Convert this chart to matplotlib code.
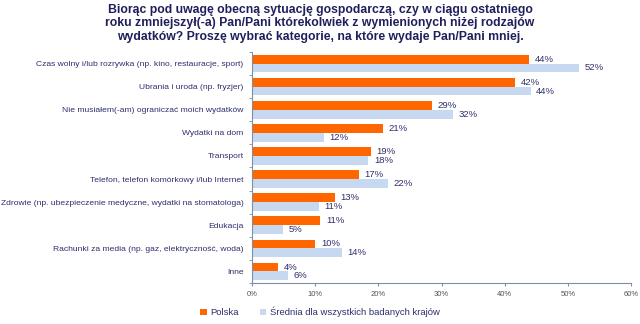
import matplotlib
matplotlib.use("Agg")
import matplotlib.pyplot as plt
import numpy as np
from matplotlib.ticker import FixedLocator

categories = [
    "Czas wolny i/lub rozrywka (np. kino, restauracje, sport)",
    "Ubrania i uroda (np. fryzjer)",
    "Nie musiałem(-am) ograniczać moich wydatków",
    "Wydatki na dom",
    "Transport",
    "Telefon, telefon komórkowy i/lub Internet",
    "Zdrowie (np. ubezpieczenie medyczne, wydatki na stomatologa)",
    "Edukacja",
    "Rachunki za media (np. gaz, elektryczność, woda)",
    "Inne",
]
polska = [43.8, 41.6, 28.5, 20.7, 18.8, 16.9, 13.1, 10.8, 10.0, 4.1]
srednia = [51.7, 44.1, 31.8, 11.4, 18.4, 21.5, 10.6, 4.9, 14.2, 5.7]
polska_labels = ["44%", "42%", "29%", "21%", "19%", "17%", "13%", "11%", "10%", "4%"]
srednia_labels = ["52%", "44%", "32%", "12%", "18%", "22%", "11%", "5%", "14%", "6%"]
xticks = [0, 10, 20, 30, 40, 50, 60]
xtick_labels = ["0%", "10%", "20%", "30%", "40%", "50%", "60%"]
title = ("Biorąc pod uwagę obecną sytuację gospodarczą, czy w ciągu ostatniego\n"
         "roku zmniejszył(-a) Pan/Pani którekolwiek z wymienionych niżej rodzajów\n"
         "wydatków? Proszę wybrać kategorie, na które wydaje Pan/Pani mniej.")
series_names = ["Polska", "Średnia dla wszystkich badanych krajów"]

plt.rcParams['font.family'] = ['Liberation Sans', 'DejaVu Sans']

ORANGE = "#FF6600"
BLUE = "#C6D9F0"
NAVY = "#1F1F5C"
LABEL = "#2E2E6E"

fig = plt.figure(figsize=(6.4, 3.24), dpi=100)
ax = fig.add_axes([252/640, 1 - 283/324, (631-252)/640, (283-52)/324])

n = len(categories)
y = np.arange(n)
h = 0.38
ax.barh(y - h/2, polska, height=h, color=ORANGE, label=series_names[0])
ax.barh(y + h/2, srednia, height=h, color=BLUE, label=series_names[1])

for i in range(n):
    ax.text(polska[i] + 0.9, y[i] - h/2, polska_labels[i], va="center", ha="left",
            fontsize=6.8, color=LABEL)
    ax.text(srednia[i] + 0.9, y[i] + h/2, srednia_labels[i], va="center", ha="left",
            fontsize=6.8, color=LABEL)

ax.set_ylim(n - 0.5, -0.5)
ax.set_xlim(0, 60)
ax.set_yticks(y)
ax.set_yticklabels(categories, fontsize=6.1, color=LABEL)
ax.yaxis.set_minor_locator(FixedLocator(np.arange(-0.5, n, 1.0)))
ax.tick_params(axis="y", which="major", length=0, pad=6)
ax.tick_params(axis="y", which="minor", length=2.5, color="#7F8FA8")
ax.set_xticks(xticks)
ax.set_xticklabels(xtick_labels, fontsize=5.5, color="#555555")
ax.tick_params(axis="x", length=2.5, color="#7F8FA8", pad=3)

for s in ["top", "right"]:
    ax.spines[s].set_visible(False)
for s in ["left", "bottom"]:
    ax.spines[s].set_color("#7F8FA8")
    ax.spines[s].set_linewidth(0.8)

fig.text(0.5, 1 - 4/324, title, ha="center", va="top", fontsize=8.8,
         fontweight="bold", color=NAVY, linespacing=1.15)

leg = fig.legend(loc="center", bbox_to_anchor=(0.5, 1 - 312/324), ncol=2,
                 frameon=False, fontsize=6.8, handlelength=0.7, handleheight=0.7,
                 handletextpad=0.4, columnspacing=2.2)
for t in leg.get_texts():
    t.set_color(LABEL)

fig.savefig("out.png", dpi=100)
